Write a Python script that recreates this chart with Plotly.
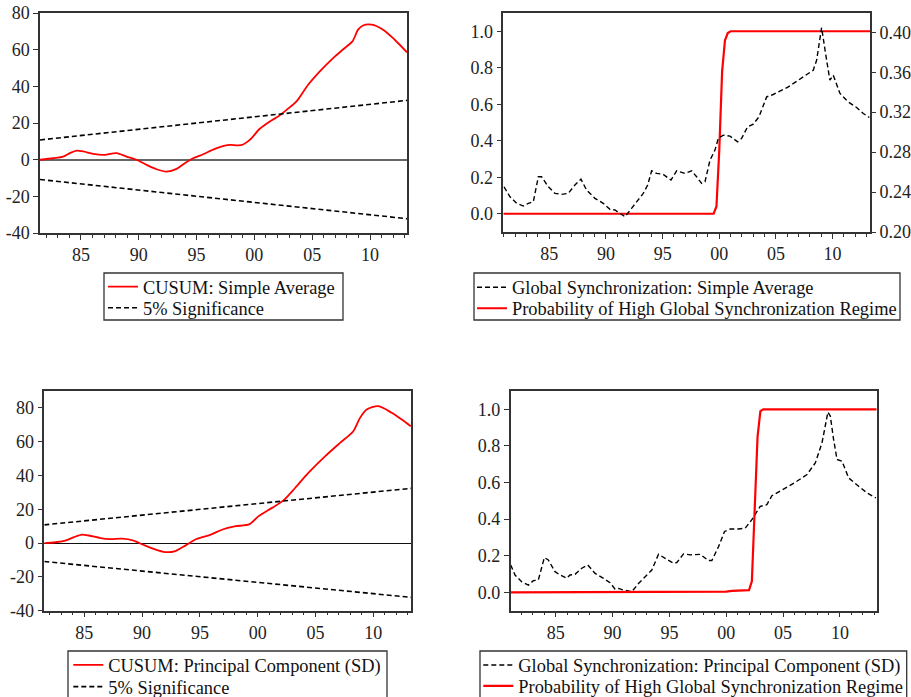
import plotly.graph_objects as go

# ---------------- data ----------------
year_ticks = [1985, 1990, 1995, 2000, 2005, 2010]
year_tick_labels = ["85", "90", "95", "00", "05", "10"]
cusum_ticks = [-40, -20, 0, 20, 40, 60, 80]
cusum_tick_labels = ["-40", "-20", "0", "20", "40", "60", "80"]

# Top-left: CUSUM, simple average
cusum_sa_x = [1981.46, 1982.6, 1983.47, 1984.05, 1984.63, 1985.2, 1986.06, 1986.93,
              1988.08, 1988.95, 1989.8, 1990.68, 1991.54, 1992.41, 1993.27, 1993.99,
              1994.7, 1995.57, 1996.58, 1997.45, 1997.88, 1998.6, 1999.03, 1999.6,
              2000.47, 2001.34, 2002.05, 2002.78, 2003.64, 2004.65, 2005.66, 2006.81,
              2007.82, 2008.48, 2008.97, 2009.4, 2010.13, 2011.13, 2012.14, 2013.2]
cusum_sa_y = [0.0, 0.8, 1.7, 3.6, 5.0, 4.5, 3.2, 2.6,
              3.6, 1.7, 0.0, -2.8, -5.2, -6.5, -5.0, -1.9,
              0.8, 3.0, 5.9, 7.7, 8.1, 7.8, 8.3, 10.8,
              16.9, 20.9, 23.6, 27.2, 31.8, 40.9, 48.2, 55.5,
              61.0, 64.6, 71.0, 73.3, 73.7, 71.0, 65.5, 58.6]
band_sa_x = [1981.46, 2013.2]
band_sa_upper = [10.8, 32.4]
band_sa_lower = [-10.8, -32.2]

# Bottom-left: CUSUM, principal component (SD)
cusum_pc_x = [1981.54, 1982.5, 1983.5, 1984.1, 1984.8, 1985.4, 1986.4, 1987.2,
              1988.3, 1989.2, 1990.1, 1991.0, 1992.0, 1992.8, 1993.8, 1994.7,
              1995.9, 1996.9, 1998.0, 1999.3, 2000.05, 2001.2, 2002.2, 2003.23,
              2004.38, 2005.82, 2007.12, 2008.27, 2008.85, 2009.43, 2010.43, 2011.59,
              2012.46, 2013.24]
cusum_pc_y = [0.0, 0.5, 1.8, 3.5, 5.0, 4.5, 3.0, 2.4,
              2.6, 1.6, -1.0, -3.4, -5.3, -4.9, -1.2, 2.4,
              4.9, 7.9, 9.9, 11.2, 15.8, 20.7, 25.1, 32.6,
              41.5, 51.3, 59.3, 66.2, 74.1, 79.0, 81.0, 77.1,
              73.1, 69.1]
band_pc_x = [1981.54, 2013.26]
band_pc_upper = [10.8, 32.4]
band_pc_lower = [-10.9, -32.1]

# Top-right: global synchronization (simple average, right axis) and regime probability
sync_sa_x = [1981.0, 1981.53, 1982.12, 1982.71, 1983.15, 1983.59, 1984.03, 1984.32,
             1984.91, 1985.5, 1986.09, 1986.68, 1987.26, 1987.79, 1988.29, 1989.03,
             1989.76, 1990.35, 1990.79, 1991.24, 1991.68, 1992.26, 1992.71, 1993.29,
             1993.68, 1994.03, 1994.47, 1995.06, 1995.74, 1996.24, 1996.97, 1997.56,
             1998.0, 1998.44, 1998.74, 1999.18, 1999.62, 1999.91, 2000.35, 2000.94,
             2001.62, 2001.97, 2002.5, 2003.0, 2003.5, 2004.18, 2004.76, 2005.35,
             2006.09, 2006.97, 2007.71, 2008.29, 2008.59, 2009.03, 2009.38, 2009.76,
             2010.06, 2010.65, 2011.38, 2012.12, 2012.71, 2013.24]
sync_sa_y = [0.2453, 0.2353, 0.2287, 0.2260, 0.2287, 0.2303, 0.2553, 0.2553,
             0.2453, 0.2387, 0.2377, 0.2387, 0.2470, 0.2530, 0.2420, 0.2337,
             0.2287, 0.2227, 0.2220, 0.2187, 0.2153, 0.2237, 0.2303, 0.2387,
             0.2470, 0.2613, 0.2587, 0.2577, 0.2520, 0.2613, 0.2587, 0.2613,
             0.2553, 0.2487, 0.2503, 0.2720, 0.2820, 0.2937, 0.2970, 0.2960,
             0.2903, 0.2937, 0.3053, 0.3080, 0.3153, 0.3353, 0.3377, 0.3413,
             0.3453, 0.3520, 0.3580, 0.3620, 0.3720, 0.4047, 0.3787, 0.3520,
             0.3570, 0.3387, 0.3303, 0.3247, 0.3187, 0.3147]
prob_sa_x = [1980.94, 1999.5, 1999.75, 2000.0, 2000.25, 2000.5, 2000.75, 2001.0, 2013.3]
prob_sa_y = [0.0, 0.0, 0.04, 0.35, 0.78, 0.95, 0.99, 1.0, 1.0]

# Bottom-right: global synchronization (principal component) and regime probability
sync_pc_x = [1981.04, 1981.42, 1982.0, 1982.6, 1983.03, 1983.47, 1984.0, 1984.35,
             1984.94, 1985.38, 1985.97, 1986.26, 1986.7, 1987.29, 1987.82, 1988.46,
             1989.2, 1989.78, 1990.22, 1990.52, 1990.96, 1991.69, 1992.28, 1992.86,
             1993.45, 1994.04, 1994.62, 1995.36, 1995.65, 1996.24, 1996.83, 1997.71,
             1998.44, 1998.73, 1999.32, 1999.85, 2000.35, 2001.08, 2001.67, 2002.25,
             2002.99, 2003.57, 2004.01, 2004.75, 2005.48, 2006.21, 2007.1, 2007.83,
             2008.42, 2008.94, 2009.15, 2009.44, 2009.74, 2010.18, 2010.76, 2011.64,
             2012.38, 2013.17]
sync_pc_y = [0.150, 0.095, 0.058, 0.040, 0.064, 0.068, 0.190, 0.177,
             0.113, 0.095, 0.077, 0.095, 0.099, 0.132, 0.150, 0.104,
             0.077, 0.053, 0.018, 0.022, 0.013, 0.004, 0.049, 0.086,
             0.122, 0.208, 0.186, 0.159, 0.163, 0.210, 0.205, 0.208,
             0.174, 0.174, 0.250, 0.333, 0.346, 0.346, 0.351, 0.397,
             0.470, 0.479, 0.528, 0.552, 0.580, 0.607, 0.644, 0.707,
             0.817, 0.985, 0.963, 0.835, 0.726, 0.717, 0.625, 0.580,
             0.543, 0.516]
prob_pc_x = [1981.04, 1999.5, 2000.0, 2000.5, 2001.5, 2002.0, 2002.25, 2002.5,
             2002.75, 2003.0, 2003.25, 2013.23]
prob_pc_y = [0.0, 0.0, 0.004, 0.008, 0.010, 0.012, 0.06, 0.45,
             0.85, 0.99, 1.0, 1.0]

names = {
    "cusum_sa": "CUSUM: Simple Average",
    "cusum_pc": "CUSUM: Principal Component (SD)",
    "sig": "5% Significance",
    "sync_sa": "Global Synchronization: Simple Average",
    "sync_pc": "Global Synchronization: Principal Component (SD)",
    "prob": "Probability of High Global Synchronization Regime",
}

# ---------------- layout helpers ----------------
W, H = 911, 697
FONT = "Liberation Serif"
RED = "#ff0000"
FRAME = "#333333"
DASH = "5px,3px"
LEG_FONT = 18.4


def fx(p):
    return p / W


def fy(p):
    return 1 - p / H


def xd(a, b):
    return [fx(a), fx(b)]


def yd(top, bottom):
    return [fy(bottom), fy(top)]


def xaxis(dom, rng, anchor):
    return dict(domain=dom, range=rng, anchor=anchor, tickmode="array",
                tickvals=year_ticks, ticktext=year_tick_labels, ticks="outside",
                ticklen=5, tickwidth=1, tickcolor=FRAME, showline=True,
                linecolor=FRAME, linewidth=1.5, mirror=True, showgrid=False,
                zeroline=False, automargin=False, ticklabeloverflow="allow",
                tickfont=dict(family=FONT, size=18, color="#222"),
                minor=dict(ticks="outside", ticklen=3, tickwidth=1, tickcolor=FRAME,
                           tickmode="linear", tick0=1980, dtick=1, showgrid=False))


def yaxis_left(dom, rng, anchor, **kw):
    d = dict(domain=dom, range=rng, anchor=anchor, ticks="outside", ticklen=5,
             tickwidth=1, tickcolor=FRAME, showline=True, linecolor=FRAME,
             linewidth=1.5, mirror=True, showgrid=False, automargin=False,
             ticklabeloverflow="allow",
             tickfont=dict(family=FONT, size=18, color="#222"))
    d.update(kw)
    return d


# plot areas in window pixels (left, right, top, bottom)
TL = (40, 407, 13, 233)
TR = (503.3, 870, 13, 232)
BL = (44.3, 411, 391, 610.7)
BR = (510.7, 876.7, 391, 610.7)

# legend boxes in window pixels (left, right, top, bottom)
BOXES = [(104, 343, 273, 320), (474, 900, 273, 320),
         (68, 387, 651, 705), (480, 906.7, 651, 705)]

# one legend per entry: (legend id, text left px, text centre px)
LEG_POS = {
    "legend": (143, 286.7), "legend2": (143, 307.8),
    "legend3": (512, 287.3), "legend4": (512, 308.3),
    "legend5": (108.3, 665), "legend6": (108.3, 686.7),
    "legend7": (518.3, 665), "legend8": (518.3, 686.0),
}

fig = go.Figure()

# Top-left
fig.add_trace(go.Scatter(x=cusum_sa_x, y=cusum_sa_y, mode="lines", name=names["cusum_sa"],
                         line=dict(color=RED, width=1.8, shape="spline", smoothing=0.8),
                         xaxis="x", yaxis="y", legend="legend"))
fig.add_trace(go.Scatter(x=band_sa_x, y=band_sa_upper, mode="lines", name=names["sig"],
                         line=dict(color="black", width=1.6, dash=DASH),
                         xaxis="x", yaxis="y", legend="legend2"))
fig.add_trace(go.Scatter(x=band_sa_x, y=band_sa_lower, mode="lines", name=names["sig"],
                         line=dict(color="black", width=1.6, dash=DASH), showlegend=False,
                         xaxis="x", yaxis="y", legend="legend2"))

# Top-right
fig.add_trace(go.Scatter(x=sync_sa_x, y=sync_sa_y, mode="lines", name=names["sync_sa"],
                         line=dict(color="black", width=1.4, dash=DASH),
                         xaxis="x2", yaxis="y3", legend="legend3"))
fig.add_trace(go.Scatter(x=prob_sa_x, y=prob_sa_y, mode="lines", name=names["prob"],
                         line=dict(color=RED, width=2.2),
                         xaxis="x2", yaxis="y2", legend="legend4"))

# Bottom-left
fig.add_trace(go.Scatter(x=cusum_pc_x, y=cusum_pc_y, mode="lines", name=names["cusum_pc"],
                         line=dict(color=RED, width=1.8, shape="spline", smoothing=0.8),
                         xaxis="x3", yaxis="y4", legend="legend5"))
fig.add_trace(go.Scatter(x=band_pc_x, y=band_pc_upper, mode="lines", name=names["sig"],
                         line=dict(color="black", width=1.6, dash=DASH),
                         xaxis="x3", yaxis="y4", legend="legend6"))
fig.add_trace(go.Scatter(x=band_pc_x, y=band_pc_lower, mode="lines", name=names["sig"],
                         line=dict(color="black", width=1.6, dash=DASH), showlegend=False,
                         xaxis="x3", yaxis="y4", legend="legend6"))

# Bottom-right
fig.add_trace(go.Scatter(x=sync_pc_x, y=sync_pc_y, mode="lines", name=names["sync_pc"],
                         line=dict(color="black", width=1.4, dash=DASH),
                         xaxis="x4", yaxis="y5", legend="legend7"))
fig.add_trace(go.Scatter(x=prob_pc_x, y=prob_pc_y, mode="lines", name=names["prob"],
                         line=dict(color=RED, width=2.2),
                         xaxis="x4", yaxis="y5", legend="legend8"))


def legend_at(key):
    tx, ty = LEG_POS[key]
    return dict(x=fx(tx - 40), y=fy(ty), xanchor="left", yanchor="middle",
                borderwidth=0, bgcolor="rgba(0,0,0,0)",
                font=dict(family=FONT, size=LEG_FONT, color="#111"), itemwidth=30,
                traceorder="normal", tracegroupgap=0)


shapes = [dict(type="rect", xref="paper", yref="paper",
               x0=fx(b[0]), x1=fx(b[1]), y0=fy(b[3]), y1=fy(b[2]),
               line=dict(color=FRAME, width=1.3), fillcolor="rgba(0,0,0,0)",
               layer="above") for b in BOXES]

fig.update_layout(
    width=W, height=H, margin=dict(l=0, r=0, t=0, b=0, autoexpand=False),
    paper_bgcolor="white", plot_bgcolor="white",
    font=dict(family=FONT, size=18, color="#222"),
    hovermode=False,
    xaxis=xaxis(xd(TL[0], TL[1]), [1981.46, 2013.2], "y"),
    yaxis=yaxis_left(yd(TL[2], TL[3]), [-40, 80.1], "x", tickmode="array",
                     tickvals=cusum_ticks, ticktext=cusum_tick_labels,
                     zeroline=True, zerolinecolor="#666666", zerolinewidth=1.5),
    xaxis2=xaxis(xd(TR[0], TR[1]), [1980.94, 2013.3], "y2"),
    yaxis2=yaxis_left(yd(TR[2], TR[3]), [-0.1, 1.1], "x2", tickmode="linear",
                      tick0=0, dtick=0.2, tickformat=".1f", zeroline=False),
    yaxis3=dict(domain=yd(TR[2], TR[3]), range=[0.20, 0.4193], overlaying="y2",
                side="right", anchor="x2", tickmode="linear", tick0=0.2, dtick=0.04,
                tickformat=".2f", ticks="outside", ticklen=5, tickwidth=1,
                tickcolor=FRAME, showline=False, showgrid=False, zeroline=False,
                automargin=False, ticklabeloverflow="allow",
                tickfont=dict(family=FONT, size=18, color="#222")),
    xaxis3=xaxis(xd(BL[0], BL[1]), [1981.54, 2013.26], "y4"),
    yaxis4=yaxis_left(yd(BL[2], BL[3]), [-40, 90], "x3", tickmode="array",
                      tickvals=cusum_ticks, ticktext=cusum_tick_labels,
                      zeroline=True, zerolinecolor="#111111", zerolinewidth=1.2),
    xaxis4=xaxis(xd(BR[0], BR[1]), [1981.04, 2013.23], "y5"),
    yaxis5=yaxis_left(yd(BR[2], BR[3]), [-0.1, 1.1], "x4", tickmode="linear",
                      tick0=0, dtick=0.2, tickformat=".1f", zeroline=False),
    shapes=shapes,
    showlegend=True,
)
fig.update_layout({k: legend_at(k) for k in LEG_POS})

# the page body has a default 8px margin; remove it so the figure fills the window
fig.write_html(
    "out.html",
    config={"displayModeBar": False},
    post_script="document.body.style.margin='0px';"
                "document.documentElement.style.overflow='hidden';",
)
